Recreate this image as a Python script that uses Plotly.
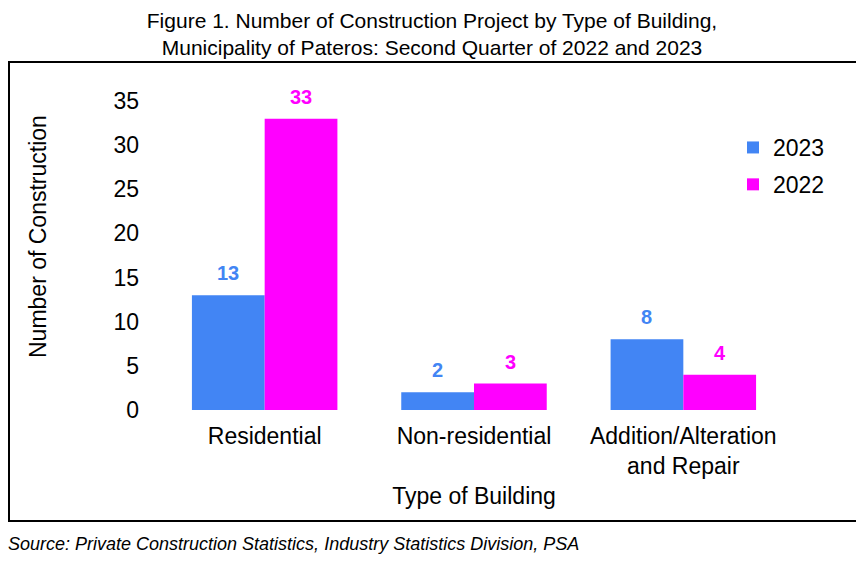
import plotly.graph_objects as go

categories = ["Residential", "Non-residential", "Addition/Alteration<br>and Repair"]
values_2023 = [13, 2, 8]
values_2022 = [33, 3, 4]
y_ticks = [0, 5, 10, 15, 20, 25, 30, 35]

BLUE = "#4285F4"
PINK = "#FF00FF"
FONT = "Liberation Sans, Arial, sans-serif"

OFF = 8  # page body margin
W, H = 864 - OFF, 563 - OFF
PL, PR, PT, PB = 160, 788, 101, 410  # plot area in screen px
L, R, T, B = PL - OFF, W - (PR - OFF), PT - OFF, H - (PB - OFF)
pw, ph = PR - PL, PB - PT
BARGAP = 0.305


def px_x(x):
    return (x - PL) / pw


def px_y(y):
    return (PB - y) / ph


fig = go.Figure()
fig.add_trace(go.Bar(x=categories, y=values_2023, name="2023", marker_color=BLUE,
                     marker_line_width=0, legendgroup="a"))
fig.add_trace(go.Bar(x=categories, y=values_2022, name="2022", marker_color=PINK,
                     marker_line_width=0, legendgroup="b"))

# value labels above bars
cat_w = pw / len(categories)
half = (1 - BARGAP) * cat_w / 4
annotations = []
for vals, color, sh in ((values_2023, BLUE, -half), (values_2022, PINK, half)):
    for c, v in zip(categories, vals):
        annotations.append(dict(x=c, y=v, xref="x", yref="y", text=f"<b>{v}</b>",
                                showarrow=False, xshift=sh, yshift=9, yanchor="bottom",
                                font=dict(size=20, color=color, family=FONT)))

annotations.append(dict(text="Number of Construction", textangle=-90,
                        xref="paper", yref="paper", x=px_x(38), y=px_y(236),
                        xanchor="center", yanchor="middle", showarrow=False,
                        font=dict(size=23, family=FONT)))

annotations.append(dict(text="<i>Source: Private Construction Statistics, Industry Statistics Division, PSA</i>",
                        xref="paper", yref="paper", x=px_x(6), y=px_y(544),
                        xanchor="left", yanchor="middle", showarrow=False,
                        font=dict(size=18, family=FONT)))

fig.update_layout(
    width=W, height=H,
    margin=dict(l=L, r=R, t=T, b=B),
    paper_bgcolor="white", plot_bgcolor="white",
    font=dict(family=FONT, color="black", size=23),
    barmode="group", bargap=BARGAP, bargroupgap=0,
    showlegend=True,
    legend=dict(x=px_x(733), y=px_y(126), xanchor="left", yanchor="top",
                font=dict(size=23), itemwidth=30, tracegroupgap=4,
                bgcolor="rgba(0,0,0,0)"),
    title=dict(
        text="Figure 1. Number of Construction Project by Type of Building,<br>Municipality of Pateros: Second Quarter of 2022 and 2023",
        x=(432 - OFF) / W, xanchor="center", y=1 - (28 - OFF) / H, yanchor="middle",
        xref="container", yref="container", font=dict(size=21, family=FONT),
    ),
    xaxis=dict(showline=False, showgrid=False, zeroline=False, ticks="",
               tickfont=dict(size=23), ticklabelstandoff=10,
               title=dict(text="Type of Building", font=dict(size=23), standoff=9)),
    yaxis=dict(range=[0, 35], tickvals=y_ticks, showline=False, showgrid=False,
               zeroline=False, ticks="", ticklabelstandoff=20,
               tickfont=dict(size=23)),
    shapes=[dict(type="rect", xref="paper", yref="paper",
                 x0=px_x(9), x1=px_x(857), y0=px_y(521), y1=px_y(62),
                 line=dict(color="black", width=2), fillcolor="rgba(0,0,0,0)")],
    annotations=annotations,
)

fig.write_html("out.html")
